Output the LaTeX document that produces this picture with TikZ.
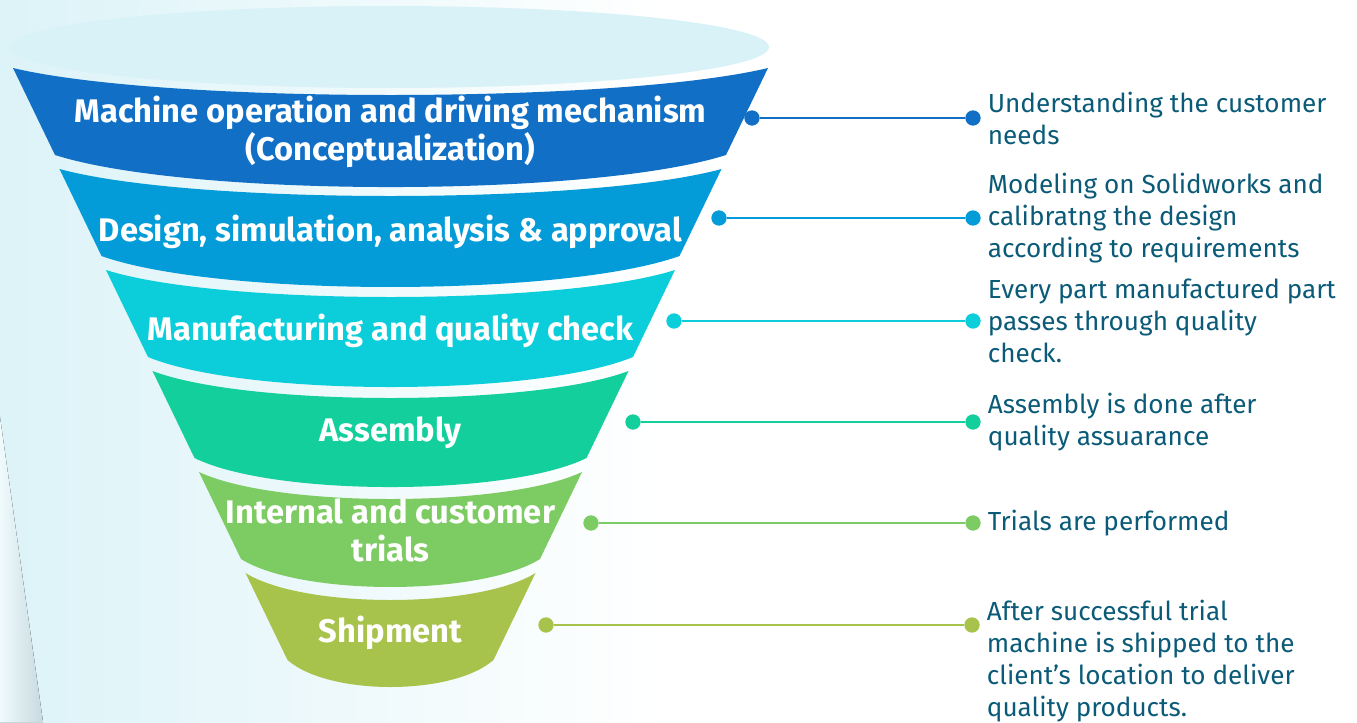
\documentclass[tikz,border=0pt]{standalone}
\usepackage{fontspec}
\setmainfont{Fira Sans}
\newfontfamily\labelfont{Fira Sans}
\usetikzlibrary{positioning}

\definecolor{bandA}{HTML}{1170C6}
\definecolor{bandB}{HTML}{039CD8}
\definecolor{bandC}{HTML}{0CCEDA}
\definecolor{bandD}{HTML}{12CF9C}
\definecolor{bandE}{HTML}{7DCB63}
\definecolor{bandF}{HTML}{A8C34B}
\definecolor{notetext}{HTML}{0B5B78}
\definecolor{bgcyan}{HTML}{DCF3F8}
\definecolor{rimcyan}{HTML}{D8F2F7}
\definecolor{shadeedge}{HTML}{C6DAE0}
\definecolor{shadefar}{HTML}{F0FAFC}

\tikzset{
  band label/.style={text=white, font=\labelfont\bfseries\fontsize{24.5}{28.5}\selectfont, align=center, inner sep=0pt},
  leaddot/.style={circle, fill=#1, inner sep=0pt, minimum size=11.5pt},
  leadline/.style={line width=1.8pt, draw=#1},
  note/.style={text=notetext, font=\fontsize{19.6}{24}\selectfont, align=left, inner sep=0pt},
}

\begin{document}
\begin{tikzpicture}[x=0.75pt, y=-0.75pt]
    \useasboundingbox (0,0) rectangle (1357,722);
    \fill[left color=bgcyan, right color=white] (0,0) rectangle (660,722);
    \fill[left color=shadefar, right color=shadeedge] (0,417) -- (43,722) -- (0,722) -- cycle;
    \fill[rimcyan] (389,47) ellipse [x radius=380, y radius=41];

    \fill[bandA] (13,68) .. controls (164,104) and (617,104) .. (768,68) -- (726,155) .. controls (591.8,197.7) and (189.2,197.7) .. (55,155) -- cycle;
    \fill[bandB] (59.5,169) .. controls (191.9,205) and (589.1,205) .. (721.5,169) -- (679.5,256) .. controls (563.9,297.3) and (217.1,297.3) .. (101.5,256) -- cycle;
    \fill[bandC] (106,270) .. controls (219.8,306) and (561.2,306) .. (675,270) -- (633,357) .. controls (536,397) and (245,397) .. (148,357) -- cycle;
    \fill[bandD] (152.5,371) .. controls (247.7,407) and (533.3,407) .. (628.5,371) -- (586.5,458) .. controls (508.1,496.7) and (272.9,496.7) .. (194.5,458) -- cycle;
    \fill[bandE] (199,472) .. controls (275.6,508) and (505.4,508) .. (582,472) -- (540,559) .. controls (480.2,596.3) and (300.8,596.3) .. (241,559) -- cycle;
    \fill[bandF] (245.5,573) .. controls (303.5,609) and (477.5,609) .. (535.5,573) -- (493.5,660) .. controls (452.3,696) and (328.7,696) .. (287.5,660) -- cycle;

    \node[band label] (lbl1) at (390.5,131.5) {Machine operation and driving mechanism\\(Conceptualization)};
    \node[band label] (lbl2) at (390.5,232) {Design, simulation, analysis \& approval};
    \node[band label] (lbl3) at (390.5,331) {Manufacturing and quality check};
    \node[band label] (lbl4) at (390.5,432.5) {Assembly};
    \node[band label] (lbl5) at (390.5,530.5) {Internal and customer\\trials};
    \node[band label] (lbl6) at (390.5,633) {Shipment};

    \node[leaddot=bandA] (p1) at (752,118) {};
    \node[leaddot=bandA] (q1) at (973,118) {};
    \node[leaddot=bandB] (p2) at (719,218) {};
    \node[leaddot=bandB] (q2) at (973,218) {};
    \node[leaddot=bandC] (p3) at (674,321) {};
    \node[leaddot=bandC] (q3) at (973,321) {};
    \node[leaddot=bandD] (p4) at (633,422) {};
    \node[leaddot=bandD] (q4) at (973,422) {};
    \node[leaddot=bandE] (p5) at (591,523) {};
    \node[leaddot=bandE] (q5) at (973,523) {};
    \node[leaddot=bandF] (p6) at (546,625) {};
    \node[leaddot=bandF] (q6) at (972,625) {};

    \draw[leadline=bandA] (p1) -- (q1);
    \draw[leadline=bandB] (p2) -- (q2);
    \draw[leadline=bandC] (p3) -- (q3);
    \draw[leadline=bandD] (p4) -- (q4);
    \draw[leadline=bandE] (p5) -- (q5);
    \draw[leadline=bandF] (p6) -- (q6);

    \node[note, right=5pt of q1] (n1) {Understanding the customer\\needs};
    \node[note, right=5pt of q2] (n2) {Modeling on Solidworks and\\calibratng the design\\according to requirements};
    \node[note, right=5pt of q3] (n3) {Every part manufactured part\\passes through quality\\check.};
    \node[note, right=5pt of q4] (n4) {Assembly is done after\\quality assuarance};
    \node[note, right=5pt of q5] (n5) {Trials are performed};
    \node[note, right=5pt of q6, yshift=-27pt] (n6) {After successful trial\\machine is shipped to the\\client’s location to deliver\\quality products.};
\end{tikzpicture}
\end{document}
